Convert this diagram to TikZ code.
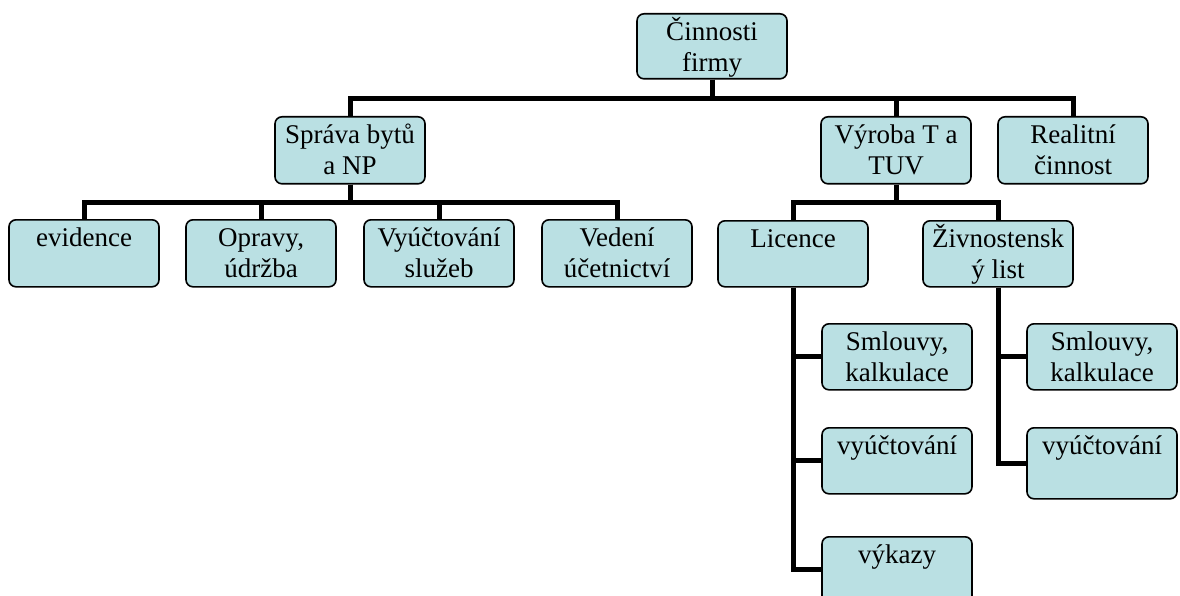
\documentclass[tikz,border=0pt]{standalone}
\usepackage{fontspec}
\setmainfont{Liberation Serif}
\definecolor{boxfill}{RGB}{186,224,227}
\newcommand\boxtext[2][66]{\parbox[t][#1pt][t]{150pt}{\centering\rule{0pt}{27pt}#2}}
\tikzset{
  orgbox/.style={draw=black, line width=1.6pt, rounded corners=7pt, fill=boxfill,
    inner sep=0pt, minimum width=150pt, anchor=north,
    font=\fontsize{27}{31}\selectfont},
  conn/.style={draw=black, line width=5pt, line join=miter}
}
\begin{document}
\begin{tikzpicture}[x=1pt,y=-1pt]
\useasboundingbox (0,0) rectangle (1180,596);
\node[orgbox] (root) at (712,13) {\boxtext[65]{Činnosti\\firmy}};
\node[orgbox] (sprava) at (350,116) {\boxtext[67]{Správa bytů\\a NP}};
\node[orgbox] (vyroba) at (896,116) {\boxtext[67]{Výroba T a\\TUV}};
\node[orgbox] (realit) at (1073,116) {\boxtext[67]{Realitní\\činnost}};
\node[orgbox] (evid) at (84,219) {\boxtext[67]{evidence}};
\node[orgbox] (oprav) at (261,219) {\boxtext[67]{Opravy,\\údržba}};
\node[orgbox] (vyuct) at (439,219) {\boxtext[67]{Vyúčtování\\služeb}};
\node[orgbox] (vedeni) at (617,219) {\boxtext[67]{Vedení\\účetnictví}};
\node[orgbox] (lic) at (793,220) {\boxtext[66]{Licence}};
\node[orgbox] (ziv) at (998,220) {\boxtext[66]{Živnostensk\\ý list}};
\node[orgbox] (smlA) at (897,323) {\boxtext[66]{Smlouvy,\\kalkulace}};
\node[orgbox] (vyuA) at (897,427) {\boxtext[66]{vyúčtování}};
\node[orgbox] (vykA) at (897,536) {\boxtext[66]{výkazy}};
\node[orgbox] (smlB) at (1102,323) {\boxtext[66]{Smlouvy,\\kalkulace}};
\node[orgbox] (vyuB) at (1102,427) {\boxtext[71]{vyúčtování}};
% top level
\draw[conn] (root.south) -- ++(0,19) -| (sprava.north);
\draw[conn] (root.south) -- ++(0,19) -| (vyroba.north);
\draw[conn] (root.south) -- ++(0,19) -| (realit.north);
% Sprava children
\draw[conn] (sprava.south) -- ++(0,18) -| (evid.north);
\draw[conn] (sprava.south) -- ++(0,18) -| (oprav.north);
\draw[conn] (sprava.south) -- ++(0,18) -| (vyuct.north);
\draw[conn] (sprava.south) -- ++(0,18) -| (vedeni.north);
% Vyroba children
\draw[conn] (vyroba.south) -- ++(0,18) -| (lic.north);
\draw[conn] (vyroba.south) -- ++(0,18) -| (ziv.north);
% Licence
\draw[conn] (lic.south) |- (smlA.west);
\draw[conn] (lic.south) |- (vyuA.west);
\draw[conn] (lic.south) |- (vykA.west);
% Zivnostensky list
\draw[conn] (ziv.south) |- (smlB.west);
\draw[conn] (ziv.south) |- (vyuB.west);
\end{tikzpicture}
\end{document}
